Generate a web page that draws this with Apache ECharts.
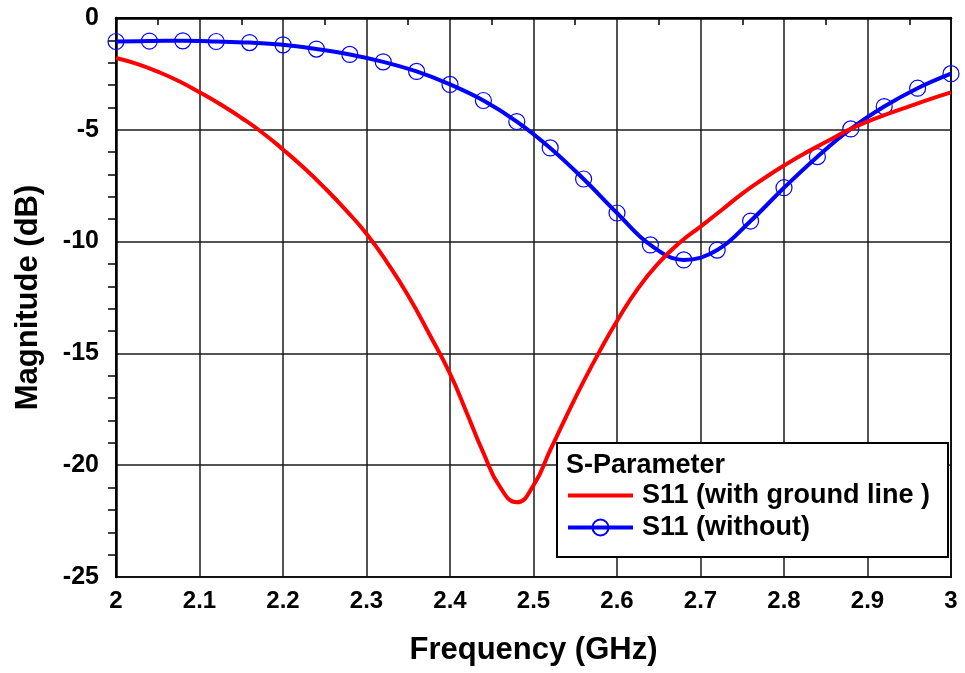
<!DOCTYPE html>
<html>
<head>
<meta charset="utf-8">
<title>S11 Magnitude vs Frequency</title>
<script src="https://cdn.jsdelivr.net/npm/echarts@6/dist/echarts.min.js"></script>
<style>
  html, body { margin: 0; padding: 0; background: #fff; }
  #chart { width: 965px; height: 673px; }
</style>
</head>
<body>
<div id="chart"></div>
<script>
// Tick labels for both axes
const xTickLabels = ['2', '2.1', '2.2', '2.3', '2.4', '2.5', '2.6', '2.7', '2.8', '2.9', '3'];
const yTickLabels = ['-25', '-20', '-15', '-10', '-5', '0'];

// S11 with ground line (GHz, dB); denser samples around the resonance dip
const freqGround = [2.000, 2.025, 2.050, 2.075, 2.100, 2.125, 2.150, 2.175, 2.200, 2.225,
  2.250, 2.275, 2.300, 2.325, 2.350, 2.375, 2.400, 2.420, 2.440, 2.460,
  2.480, 2.500, 2.520, 2.540, 2.560, 2.580, 2.600, 2.625, 2.650, 2.675,
  2.700, 2.725, 2.750, 2.775, 2.800, 2.825, 2.850, 2.875, 2.900, 2.925,
  2.950, 2.975, 3.000];
const s11Ground = [-1.79, -2.05, -2.40, -2.82, -3.32, -3.86, -4.46, -5.12, -5.88, -6.70,
  -7.60, -8.58, -9.65, -10.95, -12.42, -14.12, -15.90, -17.65, -19.45, -20.98,
  -21.66, -20.90, -19.33, -17.76, -16.25, -14.85, -13.55, -12.10, -10.95, -10.05,
  -9.33, -8.60, -7.85, -7.20, -6.60, -6.05, -5.55, -5.05, -4.63, -4.28,
  -3.95, -3.63, -3.33];

// S11 without ground line (GHz, dB), one marker every 40 MHz
const freqWithout = [2.00, 2.04, 2.08, 2.12, 2.16, 2.20, 2.24, 2.28, 2.32, 2.36, 2.40, 2.44, 2.48,
  2.52, 2.56, 2.60, 2.64, 2.68, 2.72, 2.76, 2.80, 2.84, 2.88, 2.92, 2.96, 3.00];
const s11Without = [-1.05, -1.03, -1.02, -1.05, -1.10, -1.20, -1.39, -1.63, -1.96, -2.39, -2.97, -3.69, -4.63,
  -5.81, -7.20, -8.72, -10.15, -10.82, -10.38, -9.08, -7.59, -6.20, -4.96, -3.96, -3.14, -2.49];

const seriesNames = ['S11 (with ground line )', 'S11 (without)'];
const legendTitle = 'S-Parameter';

const FONT = '"Liberation Sans", Arial, sans-serif';
const pair = (xs, ys) => xs.map((x, i) => [x, ys[i]]);

const chart = echarts.init(document.getElementById('chart'), null, { renderer: 'canvas' });

chart.setOption({
  animation: false,
  backgroundColor: '#ffffff',
  grid: {
    left: 116, right: 14, top: 18, bottom: 96,
    show: true, borderColor: '#000', borderWidth: 2, backgroundColor: 'transparent'
  },
  xAxis: {
    type: 'value',
    min: 2, max: 3, interval: 0.1,
    name: 'Frequency (GHz)',
    nameLocation: 'middle',
    nameGap: 58,
    nameTextStyle: { fontFamily: FONT, fontWeight: 'bold', fontSize: 31, color: '#000' },
    axisLine: { show: true, lineStyle: { color: '#000', width: 2.5 } },
    axisTick: { show: false },
    minorTick: { show: true, splitNumber: 2, length: 7, lineStyle: { color: '#000', width: 1.5 } },
    axisLabel: {
      margin: 12,
      fontFamily: FONT, fontWeight: 'bold', fontSize: 24, color: '#000',
      formatter: v => xTickLabels[Math.round((v - 2) * 10)]
    },
    splitLine: { show: true, lineStyle: { color: '#1a1a1a', width: 1.5 } }
  },
  yAxis: {
    type: 'value',
    min: -25, max: 0, interval: 5,
    name: 'Magnitude (dB)',
    nameLocation: 'middle',
    nameGap: 72,
    nameRotate: 90,
    nameTextStyle: { fontFamily: FONT, fontWeight: 'bold', fontSize: 31, color: '#000' },
    axisLine: { show: true, lineStyle: { color: '#000', width: 2.5 } },
    axisTick: { show: false },
    minorTick: { show: true, splitNumber: 5, length: 8, lineStyle: { color: '#000', width: 1.5 } },
    axisLabel: {
      margin: 17,
      fontFamily: FONT, fontWeight: 'bold', fontSize: 25, color: '#000',
      formatter: v => yTickLabels[Math.round((v + 25) / 5)]
    },
    splitLine: { show: true, lineStyle: { color: '#1a1a1a', width: 1.5 } }
  },
  legend: {
    data: [
      { name: seriesNames[0], itemStyle: { opacity: 0 }, lineStyle: { width: 4 } },
      { name: seriesNames[1], lineStyle: { width: 4 } }
    ],
    orient: 'vertical',
    left: 557, top: 443,
    padding: [39, 18, 16, 9],
    itemGap: 5,
    itemWidth: 65,
    itemHeight: 20,
    backgroundColor: '#fff',
    borderColor: '#000',
    borderWidth: 2,
    borderRadius: 0,
    selectedMode: false,
    textStyle: {
      fontFamily: FONT, fontWeight: 'bold', fontSize: 27, color: '#000',
      padding: [0, 0, 0, 4]
    }
  },
  graphic: [{
    type: 'text',
    left: 566, top: 452,
    z: 100,
    style: {
      text: legendTitle,
      font: 'bold 27px ' + FONT,
      fill: '#000'
    }
  }],
  series: [
    {
      name: seriesNames[0],
      type: 'line',
      data: pair(freqGround, s11Ground),
      smooth: 0.5,
      showSymbol: false,
      symbol: 'none',
      lineStyle: { color: '#ff0000', width: 4 },
      itemStyle: { color: '#ff0000' },
      z: 4
    },
    {
      name: seriesNames[1],
      type: 'line',
      data: pair(freqWithout, s11Without),
      smooth: 0.4,
      symbol: 'circle',
      symbolSize: 16,
      lineStyle: { color: '#0000ff', width: 4 },
      itemStyle: { color: 'rgba(0,0,0,0)', borderColor: '#0000ff', borderWidth: 1.2 },
      z: 3
    }
  ]
});
</script>
</body>
</html>
